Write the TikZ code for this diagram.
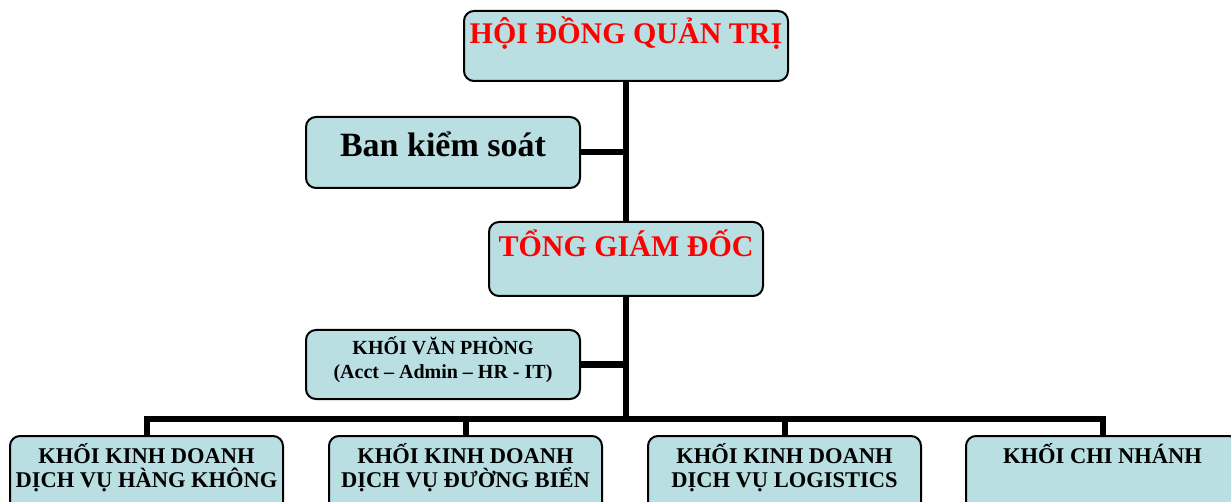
\documentclass[tikz,border=0pt]{standalone}
\usepackage{fontspec}
\setmainfont{Liberation Serif}
\definecolor{boxfill}{HTML}{B9DFE2}
\definecolor{titlered}{HTML}{FF0000}
\begin{document}
\begin{tikzpicture}[x=1pt,y=-1pt,
  orgbox/.style={draw=black,line width=2pt,rounded corners=10pt,fill=boxfill,
    minimum width=#1,minimum height=70pt,inner sep=0pt},
  orgbox/.default=274pt,
  conn/.style={line width=6pt,line join=miter},
  bigred/.style={anchor=base,inner sep=0pt,text=titlered,font=\fontsize{30}{36}\selectfont\bfseries},
  bigblack/.style={anchor=base,inner sep=0pt,text=black,font=\fontsize{34}{40}\selectfont\bfseries},
  midtext/.style={anchor=base,inner sep=0pt,text=black,font=\fontsize{20}{24}\selectfont\bfseries},
  bottext/.style={anchor=base,inner sep=0pt,text=black,font=\fontsize{22.5}{27}\selectfont\bfseries}]
\useasboundingbox (0,0) rectangle (1231,502);
\clip (0,0) rectangle (1231,502);
% boxes
\node[orgbox=324pt] (hdqt) at (626,46) {};
\node[orgbox,minimum height=71pt] (bks) at (443,152.5) {};
\node[orgbox,minimum height=74pt] (tgd) at (626,259) {};
\node[orgbox,minimum height=69pt] (kvp) at (443,364.5) {};
\node[orgbox=273pt,minimum height=80pt] (b1) at (146.5,476) {};
\node[orgbox=273pt,minimum height=80pt] (b2) at (465.5,476) {};
\node[orgbox=273pt,minimum height=80pt] (b3) at (784.5,476) {};
\node[orgbox=273pt,minimum height=80pt] (b4) at (1102.5,476) {};
% connectors
\coordinate (bus) at (626,419);
\draw[conn] (hdqt.south) -- (tgd.north);
\draw[conn] (tgd.south) -- (bus);
\draw[conn] (bks.east) -- (bks.east -| hdqt.south);
\draw[conn] (kvp.east) -- (kvp.east -| tgd.south);
\draw[conn] (b1.north) |- (bus) -| (b4.north);
\draw[conn] (b2.north) -- (b2.north |- bus);
\draw[conn] (b3.north) -- (b3.north |- bus);
% texts
\node[bigred] (thdqt) at (626,44) {HỘI ĐỒNG QUẢN TRỊ};
\node[bigblack] (tbks) at (443,157) {Ban kiểm soát};
\node[bigred] (ttgd) at (626,257) {TỔNG GIÁM ĐỐC};
\node[midtext] (tkvp1) at (443,355) {KHỐI VĂN PHÒNG};
\node[midtext] (tkvp2) at (443,378) {(Acct – Admin – HR - IT)};
\node[bottext] (tb1a) at (146.5,463) {KHỐI KINH DOANH};
\node[bottext] (tb1b) at (146.5,487) {DỊCH VỤ HÀNG KHÔNG};
\node[bottext] (tb2a) at (465.5,463) {KHỐI KINH DOANH};
\node[bottext] (tb2b) at (465.5,487) {DỊCH VỤ ĐƯỜNG BIỂN};
\node[bottext] (tb3a) at (784.5,463) {KHỐI KINH DOANH};
\node[bottext] (tb3b) at (784.5,487) {DỊCH VỤ LOGISTICS};
\node[bottext] (tb4a) at (1102.5,463) {KHỐI CHI NHÁNH};
\end{tikzpicture}
\end{document}
